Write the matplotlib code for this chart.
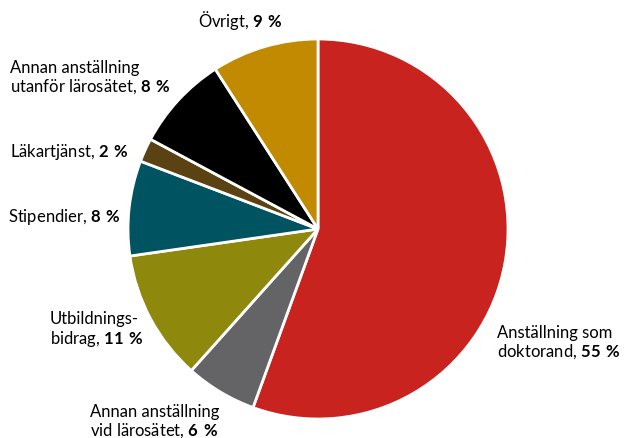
import matplotlib
matplotlib.use("Agg")
import matplotlib.pyplot as plt

# data, clockwise from 12 o'clock
labels = ["Anställning som\ndoktorand", "Annan anställning\nvid lärosätet", "Utbildnings-\nbidrag",
          "Stipendier", "Läkartjänst", "Annan anställning\nutanför lärosätet", "Övrigt"]
values = [55, 6, 11, 8, 2, 8, 9]
colors = ["#C8231E", "#646466", "#8E880D", "#005462", "#5A4212", "#000000", "#C18A00"]

# label anchor (left edge, vertical centre) in pixels from top-left
label_pos = [(497, 343), (90, 422), (50, 330), (8, 217), (10, 152), (10, 78), (198, 20)]

plt.rcParams['font.family'] = ['Lato', 'DejaVu Sans']
plt.rcParams['mathtext.fontset'] = 'custom'
plt.rcParams['mathtext.rm'] = 'Lato'
plt.rcParams['mathtext.bf'] = 'Lato:bold'

W, H = 628, 439
fig = plt.figure(figsize=(W / 100, H / 100), dpi=100)
ax = fig.add_axes([0, 0, 1, 1])

ax.pie(values, colors=colors, startangle=90, counterclock=False,
       center=(318, H - 230), radius=190, frame=True,
       wedgeprops=dict(edgecolor='white', linewidth=2))
ax.set_xlim(0, W)
ax.set_ylim(0, H)
ax.set_aspect('equal')
ax.axis('off')

for lab, v, (px, py) in zip(labels, values, label_pos):
    txt = lab + r", $\mathbf{%d\ \%%}$" % v
    ax.text(px, H - py, txt, ha='left', va='center', fontsize=12,
            linespacing=1.1, color='black')

fig.savefig("out.png", dpi=100)
